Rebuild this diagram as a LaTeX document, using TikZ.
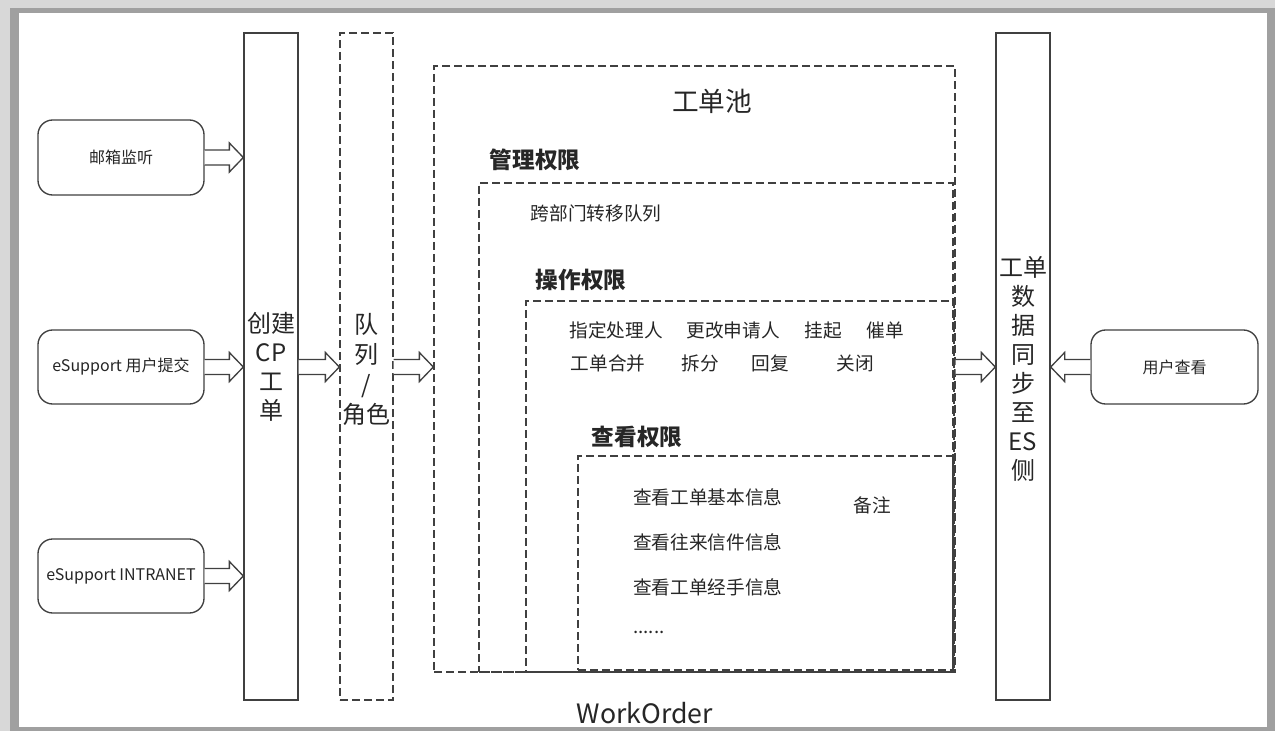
\documentclass[tikz,border=0pt]{standalone}
\usepackage{fontspec}
\setmainfont{Noto Sans CJK SC}
\usetikzlibrary{calc,fit}
\definecolor{linec}{HTML}{404040}
\definecolor{txtc}{HTML}{262626}
\definecolor{shlight}{HTML}{D8D8D8}
\definecolor{shdark}{HTML}{A0A0A0}
\newcommand\blockarr[2]{%
\draw[ln, fill=white, line join=miter] let \p1=#1, \p2=#2, \n1={sign(\x2-\x1)} in
 (\x1,{\y1+5.6pt}) -- ({\x2-\n1*10.5pt},{\y1+5.6pt}) -- ({\x2-\n1*10.5pt},{\y1+10.9pt}) -- (\x2,\y1) -- ({\x2-\n1*10.5pt},{\y1-10.9pt}) -- ({\x2-\n1*10.5pt},{\y1-5.6pt}) -- (\x1,{\y1-5.6pt});}
\begin{document}
\begin{tikzpicture}[x=0.75pt,y=-0.75pt,
  every node/.style={text=txtc},
  ln/.style={draw=linec, line width=1pt},
  dsh/.style={ln, dash pattern=on 6pt off 3pt},
  rbox/.style={ln, rounded corners=11pt, inner sep=0pt},
  btxt/.style={font=\fontsize{12}{14}\selectfont},
  vbox/.style={ln, inner sep=0pt},
  vtxt/.style={align=center, font=\fontsize{18}{21.8}\selectfont},
  dbox/.style={dsh, inner sep=0pt},
  itm/.style={font=\fontsize{14}{16}\selectfont},
  hd/.style={font=\fontsize{17}{20}\selectfont\bfseries}]
\useasboundingbox (0,0) rectangle (1275,731);
\fill[shlight] (0,0) rectangle (1275,731);
\fill[shdark] (10,8) rectangle (1275,731);
\fill[white] (19,13) rectangle (1267,727);

% left sources
\node[rbox, fit={(38,120) (204,195)}] (mail) {};
\node[btxt] (tmail) at (mail.center) {邮箱监听};
\node[rbox, fit={(38,330) (204,404)}] (esup) {};
\node[btxt] (tesup) at (esup.center) {eSupport 用户提交};
\node[rbox, fit={(38,539) (204,613)}] (intra) {};
\node[btxt] (tintra) at (intra.center) {eSupport INTRANET};

% vertical bars
\node[vbox, fit={(244,33) (298,700)}] (create) {};
\node[vtxt] (tcreate) at (271,367) {创建\\CP\\工\\单};
\node[vbox, dsh, fit={(340,33) (393,700)}] (queue) {};
\node[vtxt, font=\fontsize{18}{22.5}\selectfont] (tqueue) at (366,369) {队\\列\\/\\角色};
\node[vbox, fit={(996,33) (1050,700)}] (es) {};
\node[vtxt] (tes) at (1023,369) {工单\\数\\据\\同\\步\\至\\ES\\侧};

% right source
\node[rbox, fit={(1091,330) (1258,404)}] (user) {};
\node[btxt] (tuser) at (user.center) {用户查看};

% pool boxes
\node[dbox, fit={(434,66) (955,672)}] (pool) {};
\node[dbox, fit={(479,183) (953,672)}] (mgmt) {};
\node[dbox, fit={(526,301) (954,672)}] (oper) {};
\node[dbox, fit={(578,456) (953,670)}] (view) {};

\node[font=\fontsize{20}{24}\selectfont] (tpool) at (712,101) {工单池};
\node[hd] (hmgmt) at (535,160) {管理权限};
\node[itm] (move) at (596,213) {跨部门转移队列};
\node[hd] (hoper) at (581,280) {操作权限};
\node[itm] (o1) at (616,330) {指定处理人};
\node[itm] (o2) at (733,330) {更改申请人};
\node[itm] (o3) at (823,330) {挂起};
\node[itm] (o4) at (885,330) {催单};
\node[itm] (o5) at (608,363) {工单合并};
\node[itm] (o6) at (700,363) {拆分};
\node[itm] (o7) at (770,363) {回复};
\node[itm] (o8) at (855,363) {关闭};
\node[hd] (hview) at (637,437) {查看权限};
\node[itm, anchor=west, inner sep=0pt] (v1) at (633,497) {查看工单基本信息};
\node[itm, anchor=west, inner sep=0pt] (v2) at (633,542) {查看往来信件信息};
\node[itm, anchor=west, inner sep=0pt] (v3) at (633,587) {查看工单经手信息};
\node[itm, anchor=west, inner sep=0pt] (v4) at (633,632) {......};
\node[itm] (v5) at (872,505) {备注};

\node[font=\fontsize{20}{24}\selectfont] (wo) at (645,713) {WorkOrder};

% block arrows
\blockarr{(mail.east)}{(create.west |- mail.east)}
\blockarr{(esup.east)}{(create.west |- esup.east)}
\blockarr{(intra.east)}{(create.west |- intra.east)}
\blockarr{(create.east |- esup.east)}{(queue.west |- esup.east)}
\blockarr{(queue.east |- esup.east)}{(pool.west |- esup.east)}
\blockarr{(pool.east |- esup.east)}{(es.west |- esup.east)}
\blockarr{(user.west)}{(es.east |- user.west)}
\end{tikzpicture}
\end{document}
